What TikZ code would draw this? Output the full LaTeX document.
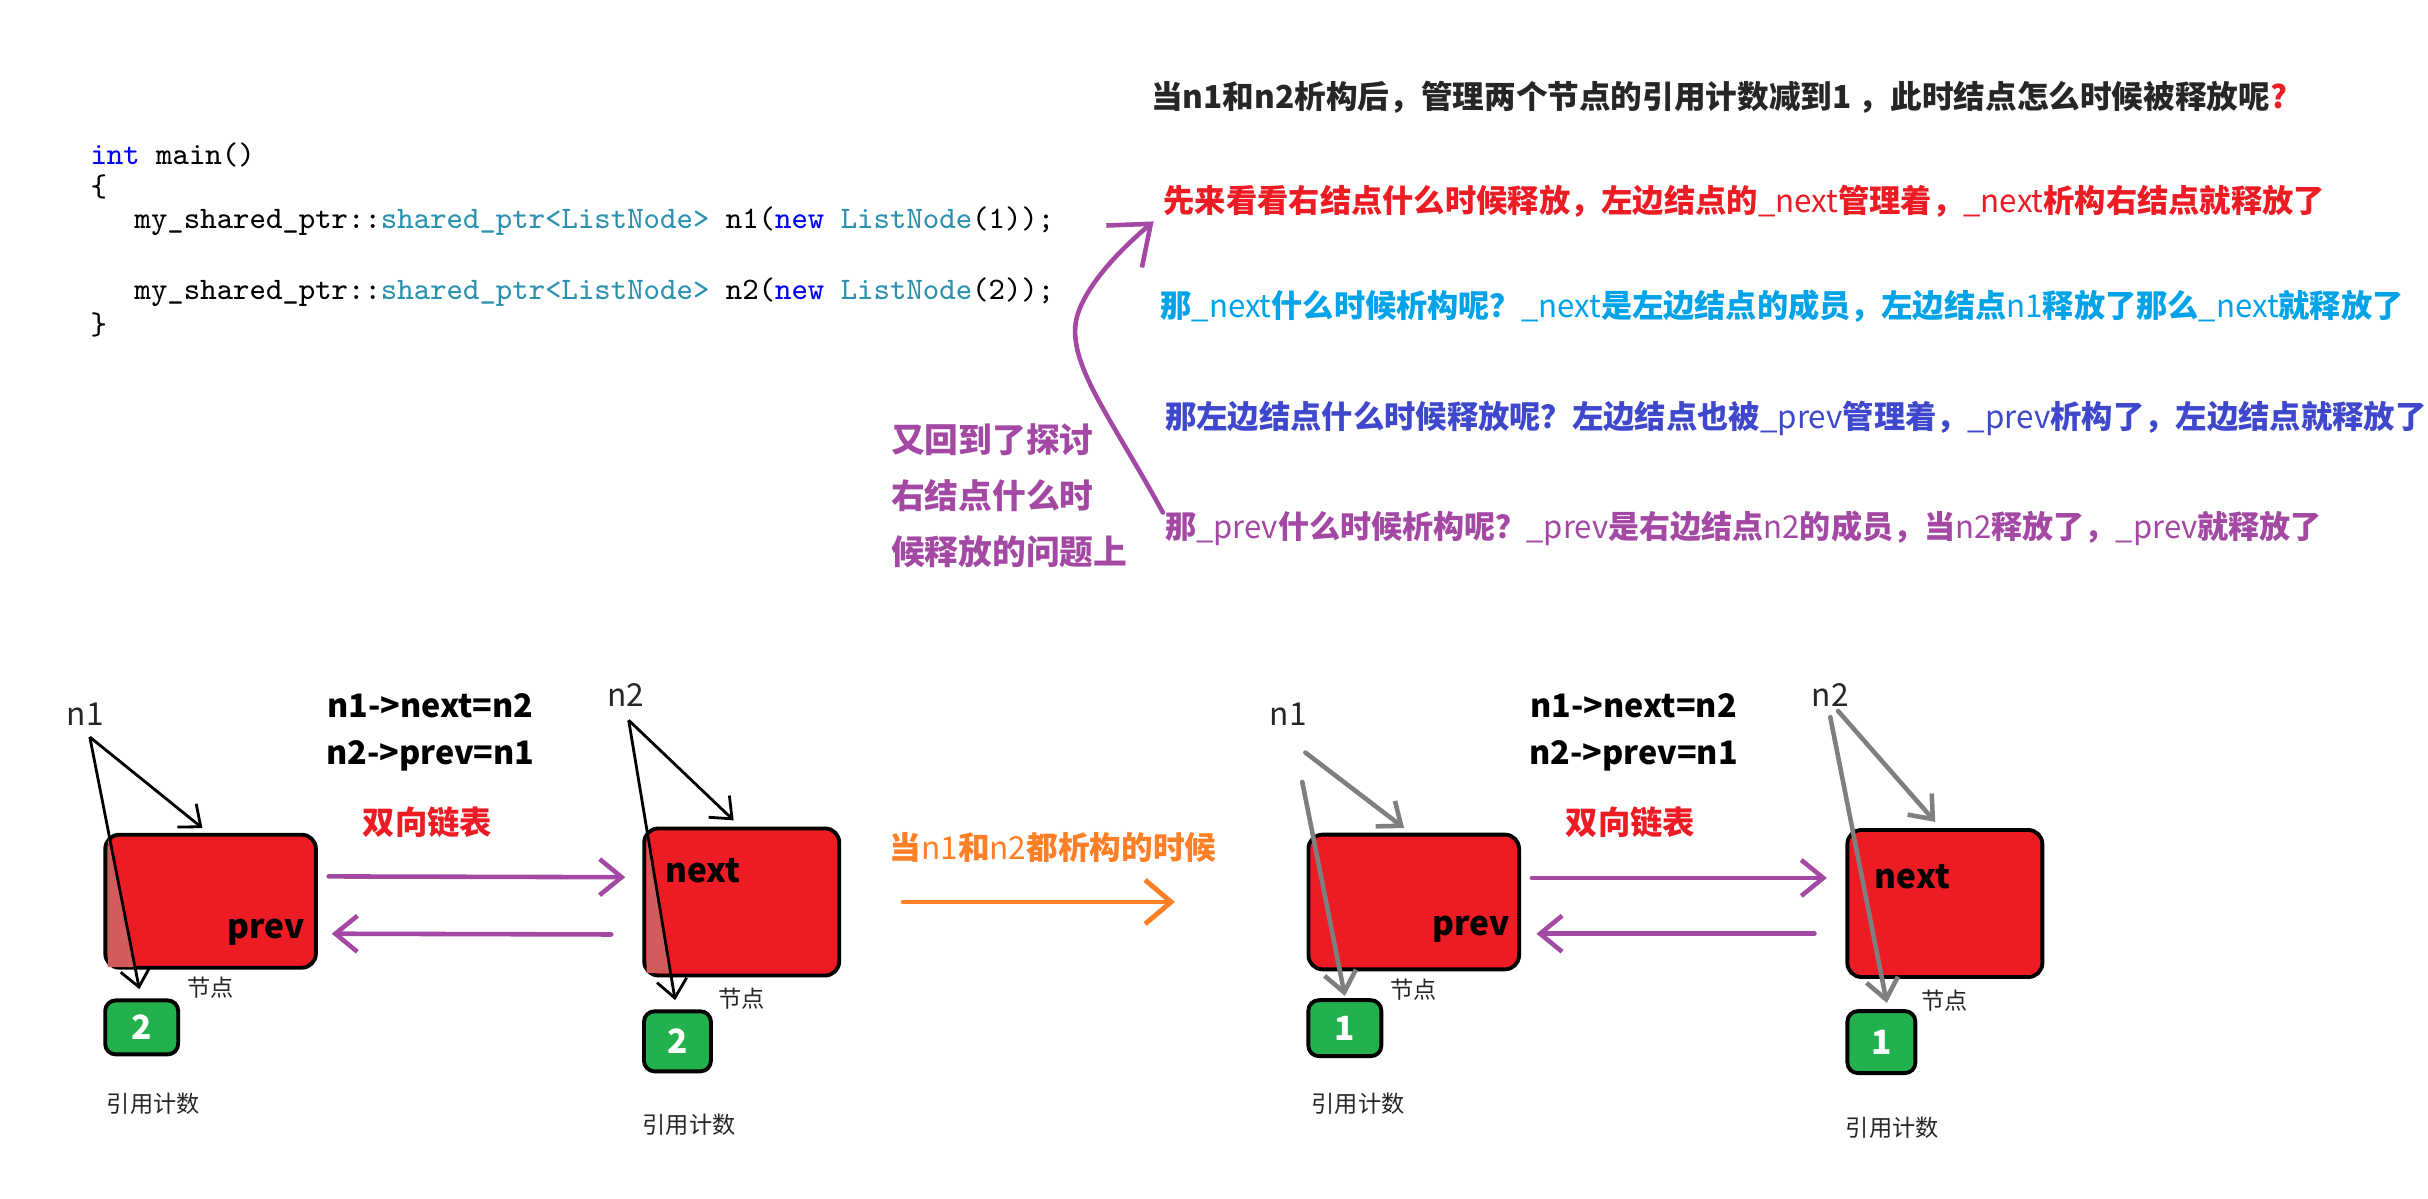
\documentclass[tikz,border=0pt]{standalone}
\usepackage{fontspec}
\newfontfamily\cjk{Noto Sans CJK SC}
\usepackage{xcolor}
\usepackage{graphicx}
\usetikzlibrary{arrows.meta, calc}
\definecolor{boxred}{HTML}{ED1C24}
\definecolor{boxpink}{HTML}{D25C5C}
\definecolor{cntgreen}{HTML}{22B14C}
\definecolor{linkpurple}{HTML}{A349A4}
\definecolor{gonegray}{HTML}{7F7F7F}
\definecolor{stepcyan}{HTML}{00A2E8}
\definecolor{stepblue}{HTML}{3F48CC}
\definecolor{destrorange}{HTML}{FF7F27}
\definecolor{kwblue}{HTML}{0000FF}
\definecolor{typeteal}{HTML}{2B91AF}
\definecolor{darktext}{HTML}{262626}
\newcommand\lat[1]{{\mdseries #1}}

\begin{document}
\begin{tikzpicture}[x=0.15485mm, y=-0.15485mm,
    code/.style={anchor=west, inner sep=0pt, font=\ttfamily\fontsize{8.9}{10}\selectfont},
    note/.style={anchor=west, inner sep=0pt, text=#1, font=\cjk\bfseries\fontsize{9}{10}\selectfont},
    listbox/.style 2 args={draw=black, line width=1.1pt, fill=boxred, rounded corners=4pt, minimum width=#1, minimum height=#2, inner sep=0pt},
    countbox/.style 2 args={draw=black, line width=1.1pt, fill=cntgreen, rounded corners=3pt, minimum width=#1, minimum height=#2, inner sep=0pt, text=white, font=\cjk\bfseries\fontsize{9.5}{10}\selectfont},
    ptrname/.style={inner sep=1pt, text=darktext, font=\cjk\fontsize{9}{10}\selectfont},
    member/.style={inner sep=0pt, font=\cjk\bfseries\fontsize{9.5}{10}\selectfont},
    caption/.style={inner sep=0pt, text=darktext, font=\cjk\fontsize{6.6}{8}\selectfont},
    relation/.style={inner sep=0pt, font=\cjk\bfseries\fontsize{9.2}{10}\selectfont},
    link/.style={linkpurple, line width=1.3pt, line cap=round, -{Straight Barb[length=2.2mm,width=3.6mm]}},
    backlink/.style={linkpurple, line width=1.3pt, line cap=round, -{Straight Barb[length=3.5mm,width=5.5mm]}},
    destroy/.style={destrorange, line width=1.4pt, line cap=round, -{Straight Barb[length=2.6mm,width=4.4mm]}},
    ptr/.style={line width=0.8pt, -{Straight Barb[length=1.8mm,width=3mm]}},
    deadptr/.style={gonegray, line width=1.3pt, line cap=round, -{Straight Barb[length=2mm,width=3.2mm]}},
  ]
  \useasboundingbox (0,0) rectangle (1568,774);

  % Code
  \node[code] (lmain) at (58,100) {\textcolor{kwblue}{int} main()};
  \node[code] (lopen) at (58,121) {\{};
  \node[code] (lnA) at (86.5,143) {my\_shared\_ptr::\textcolor{typeteal}{shared\_ptr<ListNode>} n1(\textcolor{kwblue}{new} \textcolor{typeteal}{ListNode}(1));};
  \node[code] (lnB) at (86.5,189) {my\_shared\_ptr::\textcolor{typeteal}{shared\_ptr<ListNode>} n2(\textcolor{kwblue}{new} \textcolor{typeteal}{ListNode}(2));};
  \node[code] (lclose) at (58,210) {\}};

  % Notes
  \node[note=darktext] (ask) at (743,63) {当n1和n2析构后，管理两个节点的引用计数减到1 ，此时结点怎么时候被释放呢\textcolor{boxred}{?}};
  \node[note=boxred] (step1) at (751,130) {\scalebox{0.989}[1]{先来看看右结点什么时候释放，左边结点的\lat{\_next}管理着，\lat{\_next}析构右结点就释放了}};
  \node[note=stepcyan] (step2) at (749,198) {\scalebox{0.986}[1]{那\lat{\_next}什么时候析构呢？\lat{\_next}是左边结点的成员，左边结点\lat{n1}释放了那么\lat{\_next}就释放了}};
  \node[note=stepblue] (step3) at (752,270) {\scalebox{0.99}[1]{那左边结点什么时候释放呢？左边结点也被\lat{\_prev}管理着，\lat{\_prev}析构了，左边结点就释放了}};
  \node[note=linkpurple] (step4) at (752,341) {\scalebox{0.982}[1]{那\lat{\_prev}什么时候析构呢？\lat{\_prev}是右边结点\lat{n2}的成员，当\lat{n2}释放了，\lat{\_prev}就释放了}};
  \node[anchor=west, align=left, inner sep=0pt, text=linkpurple, font=\cjk\bfseries\fontsize{9.6}{16}\selectfont] (detour) at (575,320) {又回到了探讨\\右结点什么时\\候释放的问题上};
  \draw[backlink] ($(step4.west)+(-1,-10)$) .. controls (715,265) and (685,230) .. (697,200) .. controls (705,180) and (725,160) .. ($(step1.west)+(-6,13)$);

  % Before
  \node[ptrname] (pA) at (55,461) {n1};
  \node[listbox={21.06mm}{13.3mm}] (boxA) at (136,582) {};
  \fill[boxpink] (69.6,540.5) -- (69.6,624.5) -- (86.8,624.5) -- cycle;
  \node[member] (prevA) at (172,602) {prev};
  \node[countbox={7.3mm}{5.4mm}] (cntA) at (91.5,663.5) {2};
  \node[caption] (tagA) at (136,638) {节点};
  \node[caption] (rcA) at (99,712.5) {引用计数};

  \node[ptrname] (pB) at (404,449) {n2};
  \node[listbox={19.5mm}{14.7mm}] (boxB) at (479,582.5) {};
  \fill[boxpink] (417.6,537) -- (417.6,628.5) -- (433,628.5) -- cycle;
  \node[member] (nextB) at (454,562) {next};
  \node[countbox={6.7mm}{6mm}] (cntB) at (437.5,672.5) {2};
  \node[caption] (tagB) at (479,645) {节点};
  \node[caption] (rcB) at (445,726.5) {引用计数};

  \node[relation] (eqA1) at (278,456) {n1->next=n2};
  \node[relation] (eqA2) at (278,488) {n2->prev=n1};
  \node[relation, text=boxred] (dlA) at (276,531) {双向链表};

  \draw[ptr] ($(pA.south)+(3,5)$) -- ($(boxA.north west)+(64,-3)$);
  \draw[ptr] ($(pA.south)+(3,5)$) -- ($(cntA.north)+(-1.5,-6)$);
  \draw[ptr] ($(pB.south)+(2,6)$) -- ($(boxB.north west)+(59,-4)$);
  \draw[ptr] ($(pB.south)+(2,6)$) -- ($(cntB.north)+(-1.5,-6)$);
  \draw[link] ($(boxA.east)+(7,-16)$) -- ($(boxB.west)+(-11,-16)$);
  \draw[link] ($(boxB.west)+(-20,21)$) -- ($(boxA.east)+(9,21)$);

  % After
  \node[ptrname] (pC) at (832,461) {n1};
  \node[listbox={21.06mm}{13.47mm}] (boxC) at (913,582.5) {};
  \node[member] (prevC) at (950,600) {prev};
  \node[countbox={7.3mm}{5.6mm}] (cntC) at (868.5,664) {1};
  \node[caption] (tagC) at (913,639) {节点};
  \node[caption] (rcC) at (877,712.5) {引用计数};

  \node[ptrname] (pD) at (1182,449) {n2};
  \node[listbox={19.5mm}{14.7mm}] (boxD) at (1256,583.5) {};
  \node[member] (nextD) at (1235,566) {next};
  \node[countbox={6.8mm}{6.2mm}] (cntD) at (1215,673) {1};
  \node[caption] (tagD) at (1256,646) {节点};
  \node[caption] (rcD) at (1222,728) {引用计数};

  \node[relation] (eqC1) at (1055,456) {n1->next=n2};
  \node[relation] (eqC2) at (1055,488) {n2->prev=n1};
  \node[relation, text=boxred] (dlC) at (1053,531) {双向链表};

  \draw[deadptr] ($(pC.south)+(11,15)$) -- ($(boxC.north west)+(63,-3)$);
  \draw[deadptr] ($(pC.south)+(9,34)$) -- ($(cntC.north)+(0,-1.5)$);
  \draw[deadptr] ($(pD.south)+(5,0)$) -- ($(boxD.north west)+(58,-4)$);
  \draw[deadptr] ($(pD.south)+(0,4)$) -- ($(cntD.north)+(3.5,-4)$);
  \draw[link] ($(boxC.east)+(7,-15.5)$) -- ($(boxD.west)+(-12,-16.5)$);
  \draw[link] ($(boxD.west)+(-20,19.5)$) -- ($(boxC.east)+(10,20.5)$);

  % Both destroyed
  \node[note=destrorange] (when) at (574,547) {当\lat{n1}和\lat{n2}都析构的时候};
  \draw[destroy] ($(boxB.east)+(40,0)$) -- ($(boxC.west)+(-85,0)$);
\end{tikzpicture}
\end{document}
